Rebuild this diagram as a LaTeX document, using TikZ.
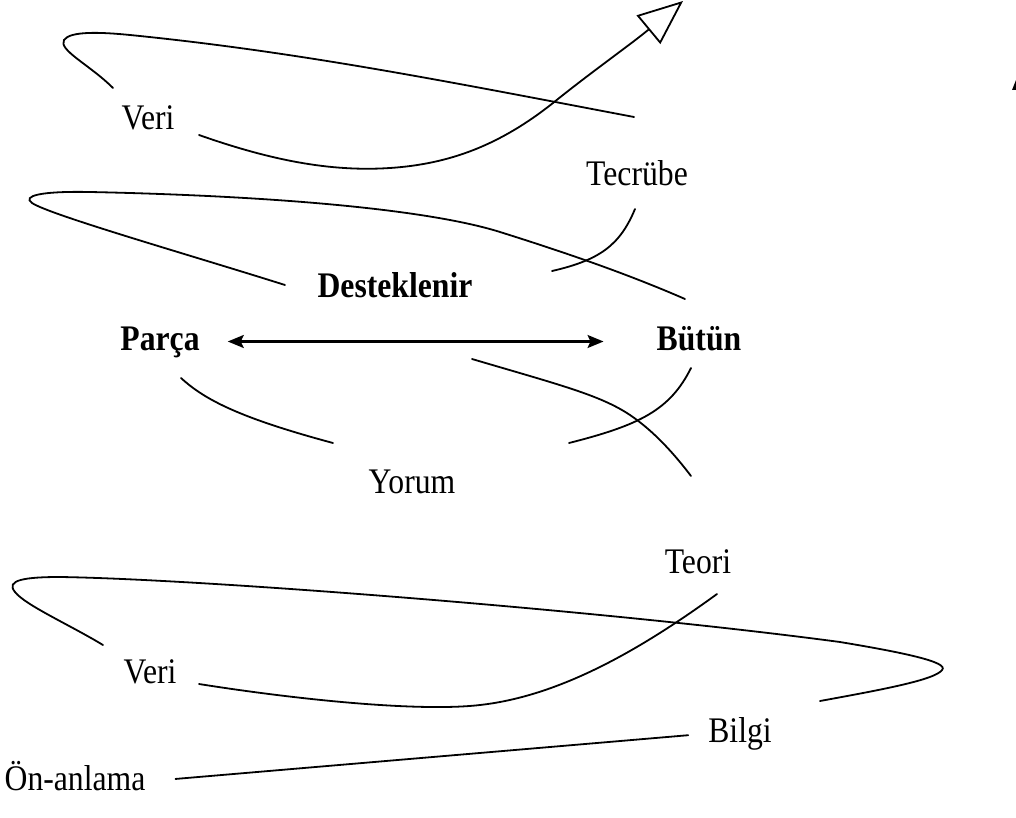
\documentclass[tikz,border=0pt]{standalone}
\usepackage{fontspec}
\setmainfont{Liberation Serif}[FakeStretch=0.88]
\usetikzlibrary{arrows.meta}
\tikzset{
  word/.style={
    font=\fontsize{36}{42}\selectfont,
    inner sep=0pt,
    text height=25pt,
    text depth=8pt,
    anchor=base
  },
  key word/.style={
    word,
    font=\fontsize{36}{42}\selectfont\bfseries
  },
  swirl/.style={
    line width=1.8pt,
    line cap=round
  }
}

\begin{document}
\begin{tikzpicture}[x=1pt, y=-1pt, >={Stealth[length=16pt, width=13pt, inset=3pt]}]
 \useasboundingbox (0,0) rectangle (1016,818);

 \node[word] (veri_top) at (148,130) {Veri};
 \node[word] (tecrube) at (637,186) {Tecrübe};
 \node[key word] (destek) at (395,297) {Desteklenir};
 \node[key word] (parca) at (160,350) {Parça};
 \node[key word] (butun) at (699,350) {Bütün};
 \node[word] (yorum) at (412,493) {Yorum};
 \node[word] (teori) at (698,573) {Teori};
 \node[word] (veri_bot) at (150,683) {Veri};
 \node[word] (bilgi) at (740,742) {Bilgi};
 \node[word] (onanlama) at (75,790) {Ön-anlama};

 % upper spiral
 \draw[swirl] (113,88) .. controls (90,65) and (58,50) .. (64,40)
   .. controls (70,31) and (100,32) .. (130,35)
   .. controls (300,52) and (450,82) .. (634,117);
 \draw[swirl, -{Triangle[open, length=45pt, width=37pt]}]
   (199,135) .. controls (270,160) and (330,172) .. (390,168)
   .. controls (450,164) and (500,145) .. (553,103)
   .. controls (590,73) and (630,45) .. (683,1);

 % middle spiral
 \draw[swirl] (285,285) .. controls (190,255) and (50,215) .. (32,203)
   .. controls (22,196) and (40,191) .. (90,192)
   .. controls (280,196) and (430,210) .. (500,232)
   .. controls (570,254) and (630,275) .. (685,299);
 \draw[swirl] (635,209) .. controls (620,245) and (600,260) .. (552,271);

 \draw[line width=2.2pt, <->, shorten <=28pt, shorten >=53pt] (parca.east) -- (butun.west);

 \draw[swirl] (181,378) .. controls (205,400) and (240,418) .. (333,443);
 \draw[swirl] (472,359) .. controls (560,385) and (600,395) .. (630,415)
   .. controls (655,432) and (675,455) .. (691,476);
 \draw[swirl] (691,368) .. controls (670,410) and (640,425) .. (569,443);

 % lower spiral
 \draw[swirl] (103,645) .. controls (70,625) and (25,605) .. (15,592)
   .. controls (5,580) and (25,577) .. (60,577)
   .. controls (200,579) and (600,610) .. (840,642)
   .. controls (900,652) and (950,662) .. (942,670)
   .. controls (935,680) and (880,690) .. (820,701);
 \draw[swirl] (199,684) .. controls (300,700) and (420,712) .. (480,705)
   .. controls (560,696) and (640,650) .. (717,594);

 \draw[swirl, shorten <=30pt, shorten >=20pt] (onanlama.east) -- (bilgi.west);

 % cut-off mark at the right edge
 \fill (1012,90) -- (1016,80) -- (1016,90) -- cycle;
\end{tikzpicture}
\end{document}
